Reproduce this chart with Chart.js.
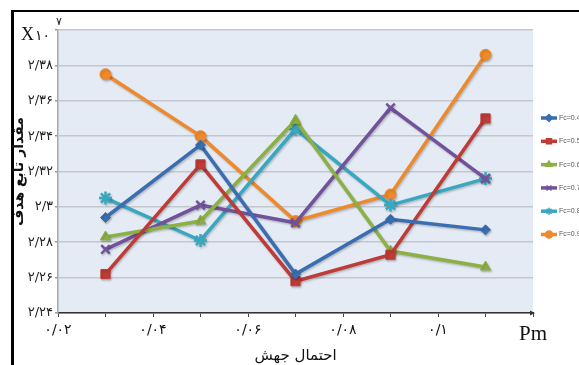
<!DOCTYPE html>
<html>
<head>
<meta charset="utf-8">
<script src="https://cdn.jsdelivr.net/npm/chart.js@4"></script>
<style>
  body { margin: 0; background: #fff; overflow: hidden; }
  #wrap { width: 579px; height: 365px; position: relative; }
</style>
</head>
<body>
<div id="wrap"><canvas id="chart"></canvas></div>
<script>
// categories (Pm) and the labels drawn on the axes
const categories = ['۰/۰۲', '۰/۰۴', '۰/۰۶', '۰/۰۸', '۰/۱'];
const xTickLabels = [...categories, 'Pm'];
const yTickLabels = ['۲/۲۴', '۲/۲۶', '۲/۲۸', '۲/۳', '۲/۳۲', '۲/۳۴', '۲/۳۶', '۲/۳۸', ''];

// objective value (x10^7) for each Fc
const fc04 = [2.294, 2.335, 2.262, 2.293, 2.287];
const fc05 = [2.262, 2.324, 2.258, 2.273, 2.350];
const fc06 = [2.283, 2.292, 2.349, 2.275, 2.266];
const fc07 = [2.276, 2.301, 2.291, 2.356, 2.316];
const fc08 = [2.305, 2.281, 2.344, 2.301, 2.316];
const fc09 = [2.375, 2.340, 2.292, 2.307, 2.386];

const seriesNames = ['Fc=0.4', 'Fc=0.5', 'Fc=0.6', 'Fc=0.7', 'Fc=0.8', 'Fc=0.9'];
const seriesValues = [fc04, fc05, fc06, fc07, fc08, fc09];
const colors = ['#3a6eb0', '#be3b36', '#8cb043', '#72529a', '#3aa7c0', '#ef8a2c'];
const markers = ['rectRot', 'rect', 'triangle', 'crossRot', 'star', 'circle'];
const markerSize = [5, 6.5, 6, 6, 6.5, 5.5];

const datasets = seriesValues.map((vals, k) => ({
    label: seriesNames[k],
    data: vals.map((v, i) => ({ x: i + 0.5, y: v })),
    borderColor: colors[k],
    backgroundColor: colors[k],
    borderWidth: 3.5,
    pointStyle: markers[k],
    pointRadius: markerSize[k],
    pointBorderWidth: markers[k] === 'crossRot' || markers[k] === 'star' ? 2.5 : 1,
    pointBorderColor: colors[k],
    pointBackgroundColor: colors[k],
    tension: 0,
    fill: false,
    clip: false
}));

const framePlugin = {
    id: 'frame',
    beforeDraw(chart) {
        const ctx = chart.ctx;
        const a = chart.chartArea;
        ctx.save();
        ctx.fillStyle = '#fff';
        ctx.fillRect(0, 0, chart.width, chart.height);
        ctx.fillStyle = '#e4ebf5';
        ctx.fillRect(a.left, a.top, a.right - a.left, a.bottom - a.top);
        ctx.fillStyle = '#000';
        ctx.fillRect(11, 10, chart.width - 11, 2);
        ctx.fillRect(11, 10, 3, chart.height - 10);
        ctx.restore();
    },
    beforeDatasetsDraw(chart) {
        const ctx = chart.ctx;
        ctx.save();
        ctx.shadowColor = 'rgba(0,0,0,0.22)';
        ctx.shadowBlur = 2;
        ctx.shadowOffsetX = 1;
        ctx.shadowOffsetY = 1.5;
    },
    afterDatasetsDraw(chart) {
        chart.ctx.restore();
    },
    afterDraw(chart) {
        const ctx = chart.ctx;
        const a = chart.chartArea;
        ctx.save();
        // arrow head at the end of the x axis
        ctx.fillStyle = '#333';
        ctx.beginPath();
        ctx.moveTo(a.right + 2, a.bottom);
        ctx.lineTo(a.right - 3, a.bottom - 2.5);
        ctx.lineTo(a.right - 3, a.bottom + 2.5);
        ctx.closePath();
        ctx.fill();

        // X10^7 unit mark
        ctx.fillStyle = '#111';
        ctx.textBaseline = 'alphabetic';
        ctx.textAlign = 'left';
        ctx.font = '18px "Liberation Serif"';
        ctx.fillText('X', 21, 40);
        ctx.font = '14px "DejaVu Sans"';
        ctx.fillText('۱۰', 35, 40);
        ctx.font = '11px "DejaVu Sans"';
        ctx.fillText('۷', 56, 25);

        // legend
        chart.data.datasets.forEach((ds, i) => {
            const y = 118 + i * 23.3;
            ctx.strokeStyle = ds.borderColor;
            ctx.lineWidth = 3.5;
            ctx.beginPath();
            ctx.moveTo(541, y);
            ctx.lineTo(557, y);
            ctx.stroke();
            if (Chart.helpers && Chart.helpers.drawPoint) {
                ctx.fillStyle = ds.borderColor;
                ctx.lineWidth = 1.5;
                Chart.helpers.drawPoint(ctx, { pointStyle: ds.pointStyle, radius: 3.5, borderWidth: 1.5 }, 549, y);
            }
            ctx.fillStyle = '#555';
            ctx.font = '7px "Liberation Sans Narrow", "Liberation Sans"';
            ctx.textBaseline = 'middle';
            ctx.fillText(ds.label, 559, y);
        });
        ctx.restore();
    }
};

new Chart(document.getElementById('chart'), {
    type: 'line',
    data: { datasets: datasets },
    plugins: [framePlugin],
    options: {
        responsive: true,
        maintainAspectRatio: false,
        animation: false,
        layout: { padding: { top: 30, right: 46, left: 0, bottom: 0 } },
        plugins: {
            legend: { display: false },
            tooltip: { enabled: false }
        },
        scales: {
            x: {
                type: 'linear',
                min: 0,
                max: 5,
                afterFit: (s) => { s.height = 52; },
                grid: { drawOnChartArea: false, tickLength: 4, tickColor: '#444' },
                border: { color: '#333', width: 1.5 },
                ticks: {
                    stepSize: 0.5,
                    autoSkip: false,
                    maxRotation: 0,
                    padding: 5,
                    color: '#111',
                    font: (c) => c.index === 10
                        ? { family: 'Liberation Serif', size: 21 }
                        : { family: 'DejaVu Sans', size: 14 },
                    callback: (v) => Number.isInteger(v) ? xTickLabels[v] : ''
                },
                title: {
                    display: true,
                    text: 'احتمال جهش',
                    color: '#111',
                    font: { family: 'DejaVu Sans', size: 15 },
                    padding: { top: 0, bottom: 0 }
                }
            },
            y: {
                min: 2.24,
                max: 2.40,
                afterFit: (s) => { s.width = 58; },
                grid: { color: '#c4c7ce', lineWidth: 1.5, tickLength: 3, tickColor: '#999' },
                border: { color: '#a6a9ae', width: 1.5 },
                ticks: {
                    stepSize: 0.02,
                    padding: 2,
                    color: '#222',
                    font: { family: 'DejaVu Sans', size: 13 },
                    callback: (v, i) => yTickLabels[i]
                },
                title: {
                    display: true,
                    text: 'مقدار تابع هدف',
                    color: '#111',
                    font: { family: 'DejaVu Sans', size: 14, weight: 'bold' },
                    padding: { top: 11, bottom: 0 }
                }
            }
        }
    }
});
</script>
</body>
</html>
